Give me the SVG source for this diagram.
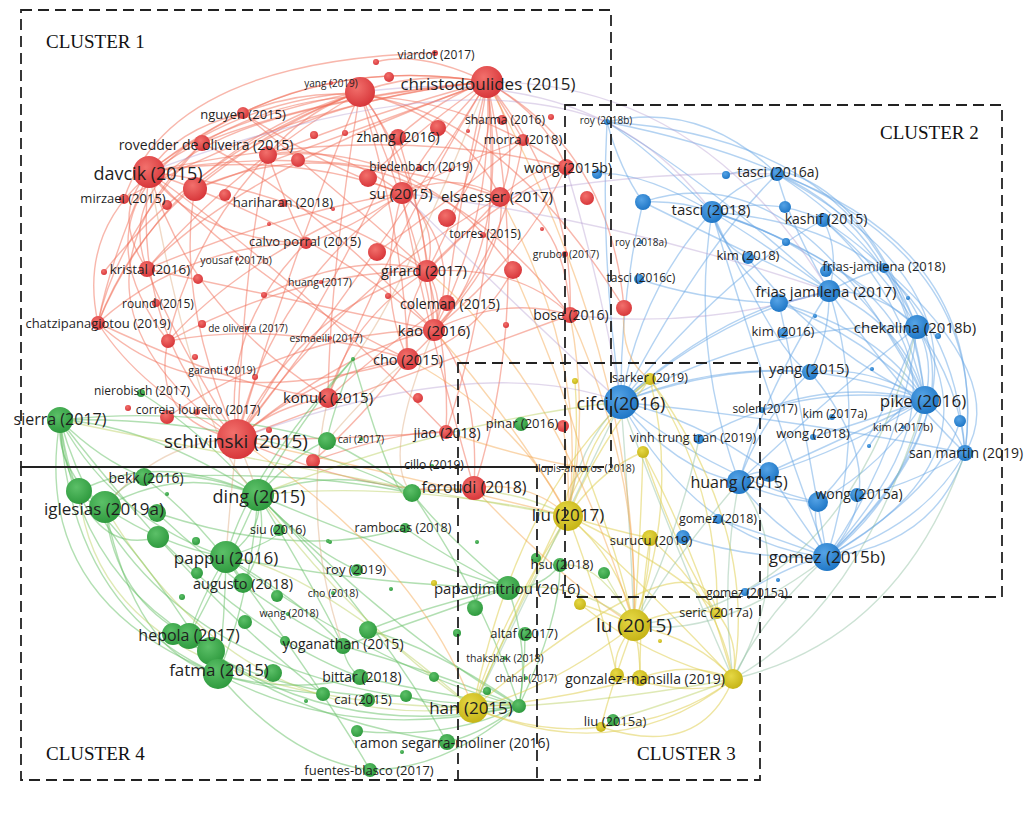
<svg xmlns="http://www.w3.org/2000/svg" width="1034" height="825" viewBox="0 0 1034 825">
<defs>
<radialGradient id="gR" cx="40%" cy="35%" r="70%"><stop offset="0" stop-color="#f2706c"/><stop offset="1" stop-color="#d63337"/></radialGradient>
<radialGradient id="gB" cx="40%" cy="35%" r="70%"><stop offset="0" stop-color="#55a3e6"/><stop offset="1" stop-color="#1c74c4"/></radialGradient>
<radialGradient id="gG" cx="40%" cy="35%" r="70%"><stop offset="0" stop-color="#5cc068"/><stop offset="1" stop-color="#2c983c"/></radialGradient>
<radialGradient id="gY" cx="40%" cy="35%" r="70%"><stop offset="0" stop-color="#e6d845"/><stop offset="1" stop-color="#c4b214"/></radialGradient>
</defs>
<style>
path{fill:none;stroke-width:1.4}
.r{stroke:#f2705a;stroke-opacity:.5}
.b{stroke:#6aa8e6;stroke-opacity:.5}
.g{stroke:#66bf66;stroke-opacity:.5}
.y{stroke:#e0cf55;stroke-opacity:.55}
.o{stroke:#f5a54a;stroke-opacity:.45}
.by{stroke:#8fbfa0;stroke-opacity:.45}
.rb{stroke:#b39ad0;stroke-opacity:.4}
.gy{stroke:#b8cf5c;stroke-opacity:.45}
.rg{stroke:#d9a070;stroke-opacity:.4}
.nr{fill:url(#gR)}.nb{fill:url(#gB)}.ng{fill:url(#gG)}.ny{fill:url(#gY)}
text.t{font-family:"Open Sans","Noto Sans",sans-serif;fill:#1f1f1f;text-anchor:middle;dominant-baseline:central}
.box{fill:none;stroke:#222;stroke-width:1.8;stroke-dasharray:11 6}
.cl{font-family:"Liberation Serif",serif;font-size:19px;fill:#111}
</style>
<rect width="1034" height="825" fill="#fff"/>
<g id="connectors">
<path class="r" d="M487 82Q300 50 149 172"/><path class="r" d="M487 82Q390 240 237 439"/><path class="r" d="M487 82Q430 140 402 193"/><path class="r" d="M487 82Q525 140 500 197"/><path class="r" d="M487 82Q475 185 427 271"/><path class="r" d="M487 82Q495 215 434 330"/><path class="r" d="M487 82Q515 270 408 359"/><path class="r" d="M487 82Q420 70 360 92"/><path class="r" d="M487 82Q380 110 268 155"/><path class="r" d="M487 82Q320 95 202 143"/><path class="r" d="M487 82Q350 60 243 113"/><path class="r" d="M487 82Q575 190 570 315"/><path class="r" d="M487 82Q610 150 624 308"/><path class="r" d="M487 82Q545 115 566 167"/><path class="r" d="M487 82Q445 95 398 137"/><path class="r" d="M487 82Q180 110 98 323"/><path class="r" d="M487 82Q240 170 147 269"/><path class="r" d="M487 82Q385 250 328 398"/><path class="r" d="M487 82Q535 300 474 488"/><path class="r" d="M487 82Q505 255 446 432"/><path class="r" d="M487 82Q460 190 447 303"/><path class="r" d="M487 82Q300 150 195 189"/><path class="r" d="M487 82Q420 50 376 62"/><path class="r" d="M487 82Q500 100 523 140"/>
<path class="r" d="M360 92Q240 100 149 172"/><path class="r" d="M360 92Q290 260 237 439"/><path class="r" d="M360 92Q395 135 402 193"/><path class="r" d="M360 92Q420 170 427 271"/><path class="r" d="M360 92Q305 110 268 155"/><path class="r" d="M360 92Q465 120 500 197"/><path class="r" d="M360 92Q170 150 98 323"/><path class="r" d="M360 92Q405 240 408 359"/><path class="r" d="M360 92Q280 120 195 189"/><path class="r" d="M360 92Q420 230 434 330"/><path class="r" d="M360 92Q330 270 328 398"/><path class="r" d="M360 92Q230 170 147 269"/>
<path class="r" d="M149 172Q130 330 237 439"/><path class="r" d="M149 172Q290 150 402 193"/><path class="r" d="M149 172Q300 190 427 271"/><path class="r" d="M149 172Q260 290 408 359"/><path class="r" d="M149 172Q320 230 434 330"/><path class="r" d="M149 172Q190 310 328 398"/><path class="r" d="M149 172Q110 215 147 269"/><path class="r" d="M149 172Q110 260 98 323"/><path class="r" d="M149 172Q330 140 500 197"/><path class="r" d="M149 172Q175 130 243 113"/><path class="r" d="M149 172Q380 120 566 167"/><path class="r" d="M149 172Q300 280 446 432"/><path class="r" d="M149 172Q200 240 306 243"/>
<path class="r" d="M237 439Q300 310 427 271"/><path class="r" d="M237 439Q270 290 402 193"/><path class="r" d="M237 439Q345 350 434 330"/><path class="r" d="M237 439Q320 370 408 359"/><path class="r" d="M237 439Q275 405 328 398"/><path class="r" d="M237 439Q140 390 98 323"/><path class="r" d="M237 439Q170 330 147 269"/><path class="r" d="M237 439Q340 290 500 197"/><path class="r" d="M237 439Q380 500 474 488"/><path class="r" d="M237 439Q245 250 268 155"/><path class="r" d="M237 439Q175 300 195 189"/><path class="r" d="M237 439Q420 370 570 315"/><path class="r" d="M237 439Q220 330 306 243"/><path class="r" d="M237 439Q370 230 398 137"/><path class="r" d="M237 439Q340 440 446 432"/><path class="r" d="M237 439Q150 420 168 341"/>
<path class="r" d="M402 193Q440 225 427 271"/><path class="r" d="M402 193Q465 250 434 330"/><path class="r" d="M402 193Q375 290 408 359"/><path class="r" d="M402 193Q455 170 500 197"/><path class="r" d="M402 193Q330 140 268 155"/><path class="r" d="M402 193Q350 230 306 243"/><path class="r" d="M427 271Q445 300 434 330"/><path class="r" d="M427 271Q475 225 500 197"/><path class="r" d="M427 271Q350 320 328 398"/><path class="r" d="M427 271Q520 265 570 315"/><path class="r" d="M427 271Q400 320 408 359"/><path class="r" d="M434 330Q505 295 570 315"/><path class="r" d="M434 330Q510 250 500 197"/><path class="r" d="M408 359Q475 340 513 270"/><path class="r" d="M500 197Q565 215 570 315"/><path class="r" d="M500 197Q545 160 566 167"/><path class="r" d="M268 155Q290 215 306 243"/><path class="r" d="M98 323Q115 240 202 143"/><path class="r" d="M98 323Q185 245 306 243"/><path class="r" d="M98 323Q240 390 328 398"/><path class="r" d="M168 341Q250 250 402 193"/><path class="r" d="M168 341Q300 270 427 271"/><path class="r" d="M168 341Q280 320 408 359"/><path class="r" d="M168 341Q190 240 268 155"/><path class="r" d="M147 269Q275 215 402 193"/><path class="r" d="M147 269Q290 300 434 330"/><path class="r" d="M243 113Q330 170 402 193"/><path class="r" d="M243 113Q360 210 427 271"/><path class="r" d="M202 143Q300 190 434 330"/><path class="r" d="M523 140Q505 250 434 330"/><path class="r" d="M523 140Q465 160 402 193"/><path class="r" d="M566 167Q525 255 434 330"/><path class="r" d="M566 167Q475 215 427 271"/><path class="r" d="M398 137Q430 240 434 330"/><path class="r" d="M328 398Q380 350 447 303"/><path class="r" d="M446 432Q450 360 427 271"/><path class="r" d="M474 488Q480 380 434 330"/><path class="r" d="M474 488Q420 300 402 193"/><path class="r" d="M313 461Q360 420 408 359"/><path class="r" d="M124 199Q300 100 487 82"/><path class="r" d="M104 272Q200 150 360 92"/>
<path class="r" d="M98 323Q60 150 360 92"/><path class="r" d="M147 269Q90 120 487 82"/><path class="r" d="M124 199Q170 60 435 53"/><path class="r" d="M168 341Q60 200 243 113"/><path class="r" d="M237 439Q40 300 202 143"/><path class="r" d="M98 323Q200 420 408 359"/><path class="r" d="M202 143Q380 40 566 167"/><path class="r" d="M243 113Q450 30 624 308"/><path class="r" d="M195 189Q400 100 570 315"/><path class="r" d="M268 155Q420 140 513 270"/><path class="r" d="M377 252Q450 200 523 140"/><path class="r" d="M447 218Q500 150 487 82"/><path class="r" d="M368 178Q430 120 487 82"/><path class="r" d="M167 417Q300 330 434 330"/><path class="r" d="M313 461Q400 430 446 432"/><path class="r" d="M264 295Q360 250 427 271"/>
<path class="b" d="M621 402Q770 340 925 400"/><path class="b" d="M621 402Q700 545 827 557"/><path class="b" d="M621 402Q720 315 829 291"/><path class="b" d="M621 402Q640 290 712 212"/><path class="b" d="M621 402Q675 470 739 482"/><path class="b" d="M621 402Q770 320 917 327"/><path class="b" d="M621 402Q800 420 965 453"/><path class="b" d="M621 402Q720 480 818 502"/><path class="b" d="M621 402Q720 365 810 372"/><path class="b" d="M621 402Q700 330 779 303"/><path class="b" d="M621 402Q700 250 777 174"/><path class="b" d="M621 402Q730 270 823 220"/>
<path class="b" d="M925 400Q905 495 827 557"/><path class="b" d="M925 400Q905 325 829 291"/><path class="b" d="M925 400Q865 255 712 212"/><path class="b" d="M925 400Q840 455 739 482"/><path class="b" d="M925 400Q935 360 917 327"/><path class="b" d="M925 400Q955 425 965 453"/><path class="b" d="M925 400Q870 365 810 372"/><path class="b" d="M925 400Q885 465 818 502"/><path class="b" d="M925 400Q905 230 777 174"/><path class="b" d="M925 400Q900 285 823 220"/><path class="b" d="M925 400Q880 330 779 303"/><path class="b" d="M925 400Q840 440 769 472"/>
<path class="b" d="M827 557Q870 420 829 291"/><path class="b" d="M827 557Q760 375 712 212"/><path class="b" d="M827 557Q770 525 739 482"/><path class="b" d="M827 557Q905 445 917 327"/><path class="b" d="M827 557Q925 525 965 453"/><path class="b" d="M827 557Q810 520 818 502"/><path class="b" d="M777 174Q1065 330 827 557"/><path class="b" d="M712 212Q1045 320 827 557"/><path class="b" d="M823 220Q1040 360 827 557"/><path class="b" d="M917 327Q1000 460 827 557"/><path class="b" d="M965 453Q935 545 827 557"/><path class="b" d="M884 268Q1010 380 965 453"/><path class="b" d="M777 174Q990 250 965 453"/><path class="b" d="M712 212Q950 230 965 453"/>
<path class="b" d="M829 291Q760 240 712 212"/><path class="b" d="M829 291Q790 225 777 174"/><path class="b" d="M829 291Q840 250 823 220"/><path class="b" d="M829 291Q880 290 917 327"/><path class="b" d="M829 291Q765 390 739 482"/><path class="b" d="M829 291Q800 300 779 303"/><path class="b" d="M829 291Q830 335 810 372"/><path class="b" d="M829 291Q860 275 884 268"/><path class="b" d="M829 291Q900 390 965 453"/><path class="b" d="M712 212Q740 180 777 174"/><path class="b" d="M712 212Q770 195 823 220"/><path class="b" d="M712 212Q720 245 748 258"/><path class="b" d="M712 212Q730 265 779 303"/><path class="b" d="M712 212Q690 350 739 482"/><path class="b" d="M712 212Q680 200 643 202"/><path class="b" d="M712 212Q820 245 917 327"/><path class="b" d="M712 212Q650 150 607 122"/><path class="b" d="M712 212Q780 360 810 372"/><path class="b" d="M607 122Q620 170 643 202"/><path class="b" d="M607 122Q700 175 829 291"/><path class="b" d="M607 122Q600 260 621 402"/><path class="b" d="M607 122Q700 100 777 174"/><path class="b" d="M917 327Q960 385 965 453"/><path class="b" d="M917 327Q830 395 739 482"/><path class="b" d="M917 327Q880 240 777 174"/><path class="b" d="M823 220Q880 265 917 327"/><path class="b" d="M739 482Q780 500 818 502"/><path class="b" d="M739 482Q750 470 769 472"/><path class="b" d="M739 482Q760 420 810 372"/><path class="b" d="M965 453Q900 490 857 495"/><path class="b" d="M960 421Q940 490 827 557"/><path class="b" d="M643 202Q620 300 621 402"/><path class="b" d="M643 202Q740 250 829 291"/><path class="b" d="M639 279Q700 300 779 303"/><path class="b" d="M718 519Q780 540 827 557"/><path class="b" d="M683 537Q750 560 827 557"/><path class="b" d="M745 592Q800 560 827 557"/><path class="b" d="M597 174Q640 170 712 212"/><path class="b" d="M869 446Q900 400 925 400"/><path class="b" d="M813 437Q870 420 925 400"/><path class="b" d="M762 410Q840 380 925 400"/>
<path class="b" d="M726 175Q840 140 917 327"/><path class="b" d="M643 202Q800 150 925 400"/><path class="b" d="M779 303Q870 340 925 400"/><path class="b" d="M779 303Q800 400 827 557"/><path class="b" d="M769 472Q800 520 827 557"/><path class="b" d="M818 502Q880 440 917 327"/><path class="b" d="M748 258Q820 350 925 400"/><path class="b" d="M810 372Q900 480 827 557"/><path class="b" d="M621 402Q700 420 769 472"/><path class="b" d="M699 439Q800 380 925 400"/><path class="b" d="M607 122Q900 140 925 400"/><path class="b" d="M607 122Q1000 200 965 453"/>
<path class="g" d="M60 420Q55 470 105 507"/><path class="g" d="M60 420Q60 460 79 491"/><path class="g" d="M60 420Q150 425 258 495"/><path class="g" d="M60 420Q115 520 226 557"/><path class="g" d="M60 420Q75 565 189 636"/><path class="g" d="M60 420Q70 610 218 674"/><path class="g" d="M60 420Q200 405 327 441"/><path class="g" d="M60 420Q100 460 144 477"/><path class="g" d="M60 420Q140 700 519 706"/><path class="g" d="M60 420Q250 415 412 493"/><path class="g" d="M60 420Q80 560 158 537"/><path class="g" d="M105 507Q180 465 258 495"/><path class="g" d="M105 507Q160 545 226 557"/><path class="g" d="M105 507Q115 600 189 636"/><path class="g" d="M105 507Q135 655 218 674"/><path class="g" d="M105 507Q120 485 144 477"/><path class="g" d="M79 491Q160 450 258 495"/><path class="g" d="M79 491Q150 560 218 674"/>
<path class="g" d="M258 495Q265 530 226 557"/><path class="g" d="M258 495Q270 545 243 583"/><path class="g" d="M258 495Q220 580 189 636"/><path class="g" d="M258 495Q250 600 218 674"/><path class="g" d="M258 495Q395 635 519 706"/><path class="g" d="M258 495Q335 465 412 493"/><path class="g" d="M258 495Q400 555 508 588"/><path class="g" d="M258 495Q300 450 327 441"/><path class="g" d="M258 495Q200 470 144 477"/><path class="g" d="M258 495Q310 580 343 646"/><path class="g" d="M258 495Q310 550 357 570"/><path class="g" d="M226 557Q200 600 189 636"/><path class="g" d="M226 557Q225 620 218 674"/><path class="g" d="M226 557Q380 670 519 706"/><path class="g" d="M226 557Q370 585 508 588"/><path class="g" d="M226 557Q300 600 343 646"/><path class="g" d="M189 636Q330 745 519 706"/><path class="g" d="M218 674Q350 745 519 706"/><path class="g" d="M218 674Q290 695 360 677"/><path class="g" d="M218 674Q270 690 323 694"/>
<path class="g" d="M519 706Q440 695 360 677"/><path class="g" d="M519 706Q460 715 406 696"/><path class="g" d="M519 706Q430 670 343 646"/><path class="g" d="M519 706Q530 650 508 588"/><path class="g" d="M519 706Q440 650 368 630"/><path class="g" d="M519 706Q485 600 412 493"/><path class="g" d="M519 706Q445 770 370 770"/><path class="g" d="M519 706Q480 735 447 742"/><path class="g" d="M519 706Q450 740 357 731"/><path class="g" d="M519 706Q525 670 525 634"/><path class="g" d="M519 706Q560 620 560 565"/><path class="g" d="M508 588Q440 530 412 493"/><path class="g" d="M508 588Q420 620 343 646"/><path class="g" d="M508 588Q430 605 368 630"/><path class="g" d="M508 588Q480 570 475 608"/><path class="g" d="M360 677Q345 665 343 646"/><path class="g" d="M412 493Q370 460 327 441"/><path class="g" d="M353 359Q300 420 258 495"/><path class="g" d="M353 359Q330 420 327 441"/><path class="g" d="M353 359Q400 520 412 493"/><path class="g" d="M353 359Q250 470 226 557"/><path class="g" d="M141 393Q200 430 258 495"/><path class="g" d="M60 420Q200 600 323 694"/><path class="g" d="M144 477Q200 520 243 583"/><path class="g" d="M157 513Q250 600 343 646"/><path class="g" d="M158 537Q260 640 360 677"/><path class="g" d="M173 634Q280 700 406 696"/><path class="g" d="M211 651Q300 720 447 742"/><path class="g" d="M218 674Q290 760 370 770"/><path class="g" d="M226 557Q280 540 279 530"/><path class="g" d="M405 528Q450 560 508 588"/><path class="g" d="M560 565Q540 590 508 588"/>
<path class="g" d="M60 420Q30 600 218 674"/><path class="g" d="M144 477Q300 470 412 493"/><path class="g" d="M157 513Q300 560 405 528"/><path class="g" d="M258 495Q380 620 447 742"/><path class="g" d="M226 557Q330 700 370 770"/>
<path class="y" d="M634 625Q620 560 568 516"/><path class="y" d="M634 625Q700 640 733 679"/><path class="y" d="M634 625Q680 605 717 613"/><path class="y" d="M634 625Q550 690 473 708"/><path class="y" d="M634 625Q680 500 650 379"/><path class="y" d="M634 625Q640 650 640 678"/><path class="y" d="M634 625Q610 655 617 675"/><path class="y" d="M634 625Q610 690 601 727"/><path class="y" d="M634 625Q600 610 580 604"/><path class="y" d="M634 625Q650 580 650 538"/><path class="y" d="M568 516Q595 450 650 379"/><path class="y" d="M568 516Q500 620 473 708"/><path class="y" d="M568 516Q660 600 733 679"/><path class="y" d="M568 516Q600 470 643 452"/><path class="y" d="M568 516Q610 530 650 538"/><path class="y" d="M568 516Q680 570 717 613"/><path class="y" d="M568 516Q560 490 585 468"/><path class="y" d="M733 679Q760 530 650 379"/><path class="y" d="M733 679Q740 640 717 613"/><path class="y" d="M733 679Q680 720 601 727"/><path class="y" d="M733 679Q620 770 473 708"/><path class="y" d="M733 679Q690 660 640 678"/><path class="y" d="M733 679Q700 560 643 452"/><path class="y" d="M733 679Q720 600 650 538"/><path class="y" d="M717 613Q720 490 650 379"/><path class="y" d="M717 613Q680 560 643 452"/><path class="y" d="M650 379Q600 420 585 468"/><path class="y" d="M473 708Q520 480 650 379"/><path class="y" d="M601 727Q540 735 473 708"/><path class="y" d="M640 678Q560 700 473 708"/><path class="y" d="M617 675Q600 600 568 516"/><path class="y" d="M585 468Q620 560 634 625"/><path class="y" d="M585 468Q520 600 473 708"/><path class="y" d="M575 381Q580 450 568 516"/><path class="y" d="M643 452Q640 550 634 625"/><path class="y" d="M650 538Q640 600 640 678"/>
<path class="y" d="M601 727Q700 760 733 679"/><path class="y" d="M617 675Q700 700 733 679"/><path class="y" d="M580 604Q650 660 733 679"/><path class="y" d="M473 708Q700 520 717 613"/>
<path class="by" d="M621 402Q630 520 634 625"/><path class="by" d="M621 402Q575 450 568 516"/><path class="by" d="M621 402Q680 560 733 679"/><path class="by" d="M621 402Q640 390 650 379"/><path class="by" d="M739 482Q720 580 733 679"/><path class="by" d="M739 482Q680 550 634 625"/><path class="by" d="M827 557Q760 620 733 679"/><path class="by" d="M827 557Q720 640 634 625"/><path class="by" d="M699 439Q680 530 634 625"/><path class="by" d="M621 402Q540 570 473 708"/><path class="by" d="M965 453Q900 640 733 679"/><path class="by" d="M917 327Q850 600 634 625"/><path class="by" d="M733 679Q800 560 739 482"/><path class="by" d="M733 679Q860 610 925 400"/>
<path class="o" d="M474 488Q530 480 568 516"/><path class="o" d="M474 488Q560 580 634 625"/><path class="o" d="M570 315Q590 420 568 516"/><path class="o" d="M570 315Q640 470 634 625"/><path class="o" d="M434 330Q520 430 568 516"/><path class="o" d="M427 271Q560 380 634 625"/><path class="o" d="M500 197Q590 360 568 516"/><path class="o" d="M237 439Q420 480 568 516"/><path class="o" d="M237 439Q420 560 473 708"/><path class="o" d="M487 82Q640 360 634 625"/><path class="o" d="M408 359Q520 420 568 516"/><path class="o" d="M624 308Q620 360 650 379"/><path class="o" d="M563 426Q570 470 568 516"/><path class="o" d="M446 432Q530 460 585 468"/><path class="o" d="M513 270Q570 400 585 468"/>
<path class="rb" d="M402 193Q540 330 621 402"/><path class="rb" d="M566 167Q600 280 621 402"/><path class="rb" d="M487 82Q700 80 829 291"/><path class="rb" d="M360 92Q600 60 712 212"/><path class="rb" d="M500 197Q640 170 777 174"/><path class="rb" d="M402 193Q620 220 829 291"/><path class="rb" d="M237 439Q480 350 621 402"/><path class="rb" d="M149 172Q450 60 607 122"/><path class="rb" d="M570 315Q700 330 829 291"/>
<path class="gy" d="M473 708Q350 620 258 495"/><path class="gy" d="M473 708Q520 600 568 516"/><path class="gy" d="M508 588Q580 580 634 625"/><path class="gy" d="M568 516Q400 480 258 495"/><path class="gy" d="M473 708Q300 560 226 557"/><path class="gy" d="M519 706Q620 700 733 679"/><path class="gy" d="M613 720Q680 700 733 679"/><path class="gy" d="M560 565Q600 560 634 625"/><path class="gy" d="M412 493Q500 480 568 516"/><path class="gy" d="M604 573Q620 600 634 625"/><path class="gy" d="M60 420Q300 470 568 516"/><path class="gy" d="M105 507Q240 735 473 708"/><path class="gy" d="M258 495Q450 420 621 402"/><path class="gy" d="M79 491Q100 700 473 708"/>
<path class="rg" d="M237 439Q250 470 258 495"/><path class="rg" d="M237 439Q160 440 105 507"/><path class="rg" d="M237 439Q230 500 226 557"/><path class="rg" d="M474 488Q440 480 412 493"/><path class="rg" d="M408 359Q370 390 327 441"/><path class="rg" d="M149 172Q200 450 258 495"/><path class="rg" d="M328 398Q300 520 343 646"/><path class="rg" d="M434 330Q380 460 412 493"/><path class="rg" d="M487 82Q400 300 353 359"/>
</g>
<g id="minor-nodes">
<circle class="nr" cx="360" cy="92" r="15"/><circle class="nr" cx="376" cy="62" r="3"/><circle class="nr" cx="389" cy="77" r="5"/><circle class="nr" cx="268" cy="155" r="9"/><circle class="nr" cx="298" cy="160" r="7"/><circle class="nr" cx="314" cy="135" r="4"/><circle class="nr" cx="345" cy="133" r="3"/><circle class="nr" cx="195" cy="189" r="12"/><circle class="nr" cx="167" cy="205" r="5"/><circle class="nr" cx="225" cy="195" r="6"/><circle class="nr" cx="333" cy="209" r="2"/><circle class="nr" cx="269" cy="224" r="2"/><circle class="nr" cx="104" cy="272" r="3"/><circle class="nr" cx="377" cy="252" r="9"/><circle class="nr" cx="198" cy="279" r="5"/><circle class="nr" cx="264" cy="295" r="3"/><circle class="nr" cx="202" cy="324" r="4"/><circle class="nr" cx="168" cy="341" r="7"/><circle class="nr" cx="195" cy="357" r="3"/><circle class="nr" cx="255" cy="377" r="3"/><circle class="nr" cx="128" cy="408" r="3"/><circle class="nr" cx="167" cy="417" r="7"/><circle class="nr" cx="269" cy="430" r="3"/><circle class="nr" cx="313" cy="461" r="7"/><circle class="nr" cx="388" cy="296" r="3"/><circle class="nr" cx="506" cy="325" r="3"/><circle class="nr" cx="513" cy="270" r="9"/><circle class="nr" cx="447" cy="218" r="9"/><circle class="nr" cx="438" cy="128" r="8"/><circle class="nr" cx="368" cy="178" r="9"/><circle class="nr" cx="450" cy="170" r="2"/><circle class="nr" cx="468" cy="131" r="2"/><circle class="nr" cx="551" cy="117" r="3"/><circle class="nr" cx="587" cy="198" r="7"/><circle class="nr" cx="542" cy="229" r="2"/><circle class="nr" cx="624" cy="308" r="8"/><circle class="nr" cx="563" cy="426" r="6"/><circle class="nr" cx="418" cy="398" r="5"/>
<circle class="nb" cx="597" cy="174" r="5"/><circle class="nb" cx="643" cy="202" r="8"/><circle class="nb" cx="726" cy="175" r="4"/><circle class="nb" cx="785" cy="207" r="6"/><circle class="nb" cx="786" cy="242" r="4"/><circle class="nb" cx="826" cy="271" r="6"/><circle class="nb" cx="779" cy="303" r="9"/><circle class="nb" cx="908" cy="298" r="2"/><circle class="nb" cx="815" cy="316" r="2"/><circle class="nb" cx="938" cy="336" r="3"/><circle class="nb" cx="872" cy="369" r="2"/><circle class="nb" cx="960" cy="421" r="6"/><circle class="nb" cx="869" cy="446" r="2"/><circle class="nb" cx="769" cy="472" r="10"/><circle class="nb" cx="818" cy="502" r="10"/><circle class="nb" cx="778" cy="580" r="2"/><circle class="nb" cx="683" cy="537" r="7"/>
<circle class="ny" cx="575" cy="381" r="3"/><circle class="ny" cx="643" cy="452" r="6"/><circle class="ny" cx="580" cy="604" r="6"/><circle class="ny" cx="660" cy="641" r="2"/><circle class="ny" cx="617" cy="675" r="7"/><circle class="ny" cx="733" cy="679" r="10"/><circle class="ny" cx="434" cy="583" r="3"/>
<circle class="ng" cx="327" cy="441" r="9"/><circle class="ng" cx="79" cy="491" r="13"/><circle class="ng" cx="157" cy="513" r="9"/><circle class="ng" cx="158" cy="537" r="11"/><circle class="ng" cx="167" cy="494" r="2"/><circle class="ng" cx="328" cy="541" r="2"/><circle class="ng" cx="196" cy="541" r="4"/><circle class="ng" cx="197" cy="573" r="6"/><circle class="ng" cx="277" cy="596" r="6"/><circle class="ng" cx="182" cy="597" r="3"/><circle class="ng" cx="330" cy="542" r="2"/><circle class="ng" cx="391" cy="589" r="2"/><circle class="ng" cx="245" cy="622" r="7"/><circle class="ng" cx="173" cy="634" r="11"/><circle class="ng" cx="211" cy="651" r="14"/><circle class="ng" cx="273" cy="673" r="9"/><circle class="ng" cx="285" cy="641" r="5"/><circle class="ng" cx="368" cy="630" r="9"/><circle class="ng" cx="323" cy="694" r="7"/><circle class="ng" cx="306" cy="701" r="2"/><circle class="ng" cx="406" cy="696" r="6"/><circle class="ng" cx="434" cy="677" r="5"/><circle class="ng" cx="357" cy="731" r="6"/><circle class="ng" cx="402" cy="752" r="2"/><circle class="ng" cx="412" cy="493" r="9"/><circle class="ng" cx="477" cy="542" r="2"/><circle class="ng" cx="536" cy="558" r="5"/><circle class="ng" cx="604" cy="573" r="6"/><circle class="ng" cx="475" cy="608" r="8"/><circle class="ng" cx="457" cy="633" r="4"/><circle class="ng" cx="519" cy="706" r="7"/><circle class="ng" cx="487" cy="691" r="4"/><circle class="ng" cx="613" cy="720" r="6"/><circle class="ng" cx="353" cy="359" r="2"/>
</g>
<g id="nodes">
<g id="n-christodoulides-2015"><circle class="nr" cx="487" cy="82" r="16"/><text class="t" x="488" y="83" font-size="17">christodoulides (2015)</text></g>
<g id="n-viardot-2017"><circle class="nr" cx="435" cy="53" r="3"/><text class="t" x="436" y="54" font-size="12">viardot (2017)</text></g>
<g id="n-yang-2019"><circle class="nr" cx="331" cy="83" r="2"/><text class="t" x="331" y="83" font-size="10">yang (2019)</text></g>
<g id="n-nguyen-2015"><circle class="nr" cx="243" cy="113" r="6"/><text class="t" x="243" y="114" font-size="13">nguyen (2015)</text></g>
<g id="n-rovedder-2015"><circle class="nr" cx="202" cy="143" r="8"/><text class="t" x="206" y="144" font-size="14">rovedder de oliveira (2015)</text></g>
<g id="n-davcik-2015"><circle class="nr" cx="149" cy="172" r="16"/><text class="t" x="148" y="173" font-size="18">davcik (2015)</text></g>
<g id="n-mirzaei-2015"><circle class="nr" cx="124" cy="199" r="5"/><text class="t" x="123" y="198" font-size="13">mirzaei (2015)</text></g>
<g id="n-hariharan-2018"><circle class="nr" cx="283" cy="203" r="4"/><text class="t" x="283" y="202" font-size="13">hariharan (2018)</text></g>
<g id="n-calvo-porral-2015"><circle class="nr" cx="306" cy="243" r="6"/><text class="t" x="305" y="241" font-size="13">calvo porral (2015)</text></g>
<g id="n-yousaf-2017b"><circle class="nr" cx="237" cy="259" r="2"/><text class="t" x="236" y="260" font-size="10.5">yousaf (2017b)</text></g>
<g id="n-kristal-2016"><circle class="nr" cx="147" cy="269" r="8"/><text class="t" x="150" y="269" font-size="13.5">kristal (2016)</text></g>
<g id="n-huang-2017"><circle class="nr" cx="321" cy="282" r="2"/><text class="t" x="320" y="282" font-size="10.5">huang (2017)</text></g>
<g id="n-round-2015"><circle class="nr" cx="156" cy="303" r="4"/><text class="t" x="158" y="303" font-size="12">round (2015)</text></g>
<g id="n-chatzipanagiotou-2019"><circle class="nr" cx="98" cy="323" r="7"/><text class="t" x="98" y="323" font-size="13">chatzipanagiotou (2019)</text></g>
<g id="n-de-oliveira-2017"><circle class="nr" cx="247" cy="328" r="2"/><text class="t" x="248" y="328" font-size="10">de oliveira (2017)</text></g>
<g id="n-esmaeili-2017"><circle class="nr" cx="330" cy="338" r="2"/><text class="t" x="326" y="338" font-size="10.5">esmaeili (2017)</text></g>
<g id="n-garanti-2019"><circle class="nr" cx="226" cy="369" r="2"/><text class="t" x="222" y="370" font-size="10.5">garanti (2019)</text></g>
<g id="n-nierobisch-2017"><circle class="ng" cx="141" cy="393" r="4"/><text class="t" x="142" y="390" font-size="12">nierobisch (2017)</text></g>
<g id="n-correia-loureiro-2017"><circle class="nr" cx="197" cy="412" r="3"/><text class="t" x="198" y="409" font-size="12">correia loureiro (2017)</text></g>
<g id="n-konuk-2015"><circle class="nr" cx="328" cy="398" r="10"/><text class="t" x="328" y="397" font-size="15">konuk (2015)</text></g>
<g id="n-schivinski-2015"><circle class="nr" cx="237" cy="439" r="20"/><text class="t" x="236" y="441" font-size="19">schivinski (2015)</text></g>
<g id="n-cai-2017"><circle class="ng" cx="361" cy="439" r="2"/><text class="t" x="361" y="439" font-size="10.5">cai (2017)</text></g>
<g id="n-cho-2015"><circle class="nr" cx="408" cy="359" r="11"/><text class="t" x="408" y="359" font-size="14.5">cho (2015)</text></g>
<g id="n-kao-2016"><circle class="nr" cx="434" cy="330" r="11"/><text class="t" x="434" y="330" font-size="15">kao (2016)</text></g>
<g id="n-coleman-2015"><circle class="nr" cx="447" cy="303" r="8"/><text class="t" x="450" y="303" font-size="14">coleman (2015)</text></g>
<g id="n-girard-2017"><circle class="nr" cx="427" cy="271" r="11"/><text class="t" x="424" y="270" font-size="14.5">girard (2017)</text></g>
<g id="n-torres-2015"><circle class="nr" cx="483" cy="235" r="3"/><text class="t" x="485" y="233" font-size="12">torres (2015)</text></g>
<g id="n-grubor-2017"><circle class="nr" cx="565" cy="254" r="3"/><text class="t" x="566" y="254" font-size="10.5">grubor (2017)</text></g>
<g id="n-elsaesser-2017"><circle class="nr" cx="500" cy="197" r="10"/><text class="t" x="497" y="196" font-size="15">elsaesser (2017)</text></g>
<g id="n-su-2015"><circle class="nr" cx="402" cy="193" r="11"/><text class="t" x="401" y="193" font-size="15">su (2015)</text></g>
<g id="n-biedenbach-2019"><circle class="nr" cx="420" cy="168" r="3"/><text class="t" x="421" y="166" font-size="12">biedenbach (2019)</text></g>
<g id="n-wong-2015b"><circle class="nr" cx="566" cy="167" r="8"/><text class="t" x="568" y="167" font-size="14">wong (2015b)</text></g>
<g id="n-zhang-2016"><circle class="nr" cx="398" cy="137" r="8"/><text class="t" x="398" y="136" font-size="14">zhang (2016)</text></g>
<g id="n-morra-2018"><circle class="nr" cx="523" cy="140" r="6"/><text class="t" x="523" y="139" font-size="13">morra (2018)</text></g>
<g id="n-sharma-2016"><circle class="nr" cx="502" cy="120" r="5"/><text class="t" x="505" y="119" font-size="12">sharma (2016)</text></g>
<g id="n-jiao-2018"><circle class="nr" cx="446" cy="432" r="7"/><text class="t" x="447" y="432" font-size="14">jiao (2018)</text></g>
<g id="n-pinar-2016"><circle class="ng" cx="521" cy="424" r="7"/><text class="t" x="522" y="423" font-size="13">pinar (2016)</text></g>
<g id="n-bose-2016"><circle class="nr" cx="570" cy="315" r="8"/><text class="t" x="571" y="314" font-size="14">bose (2016)</text></g>
<g id="n-foroudi-2018"><circle class="nr" cx="474" cy="488" r="12"/><text class="t" x="474" y="487" font-size="16">foroudi (2018)</text></g>
<g id="n-cillo-2019"><circle class="ng" cx="432" cy="466" r="2"/><text class="t" x="434" y="464" font-size="12">cillo (2019)</text></g>
<g id="n-roy-2018b"><circle class="nb" cx="607" cy="122" r="3"/><text class="t" x="606" y="120" font-size="10">roy (2018b)</text></g>
<g id="n-roy-2018a"><circle class="nb" cx="641" cy="242" r="2"/><text class="t" x="641" y="242" font-size="10">roy (2018a)</text></g>
<g id="n-tasci-2016c"><circle class="nb" cx="639" cy="279" r="5"/><text class="t" x="641" y="277" font-size="12">tasci (2016c)</text></g>
<g id="n-tasci-2016a"><circle class="nb" cx="777" cy="174" r="7"/><text class="t" x="778" y="171" font-size="14">tasci (2016a)</text></g>
<g id="n-tasci-2018"><circle class="nb" cx="712" cy="212" r="11"/><text class="t" x="711" y="209" font-size="15">tasci (2018)</text></g>
<g id="n-kashif-2015"><circle class="nb" cx="823" cy="220" r="7"/><text class="t" x="826" y="218" font-size="14">kashif (2015)</text></g>
<g id="n-kim-2018"><circle class="nb" cx="748" cy="258" r="6"/><text class="t" x="748" y="255" font-size="13">kim (2018)</text></g>
<g id="n-frias-jamilena-2018"><circle class="nb" cx="884" cy="268" r="5"/><text class="t" x="884" y="266" font-size="13">frias-jamilena (2018)</text></g>
<g id="n-frias-jamilena-2017"><circle class="nb" cx="829" cy="291" r="11"/><text class="t" x="826" y="291" font-size="15">frias jamilena (2017)</text></g>
<g id="n-kim-2016"><circle class="nb" cx="783" cy="333" r="5"/><text class="t" x="783" y="331" font-size="13">kim (2016)</text></g>
<g id="n-chekalina-2018b"><circle class="nb" cx="917" cy="327" r="12"/><text class="t" x="915" y="327" font-size="15">chekalina (2018b)</text></g>
<g id="n-cifci-2016"><circle class="nb" cx="621" cy="402" r="17"/><text class="t" x="621" y="403" font-size="18">cifci (2016)</text></g>
<g id="n-yang-2015"><circle class="nb" cx="810" cy="372" r="8"/><text class="t" x="809" y="368" font-size="15">yang (2015)</text></g>
<g id="n-pike-2016"><circle class="nb" cx="925" cy="400" r="14"/><text class="t" x="923" y="400" font-size="17">pike (2016)</text></g>
<g id="n-soler-2017"><circle class="nb" cx="762" cy="410" r="3"/><text class="t" x="765" y="408" font-size="12">soler (2017)</text></g>
<g id="n-kim-2017a"><circle class="nb" cx="832" cy="417" r="3"/><text class="t" x="835" y="413" font-size="12">kim (2017a)</text></g>
<g id="n-kim-2017b"><circle class="nb" cx="903" cy="427" r="2"/><text class="t" x="903" y="426" font-size="11">kim (2017b)</text></g>
<g id="n-wong-2018"><circle class="nb" cx="813" cy="437" r="3"/><text class="t" x="813" y="433" font-size="13">wong (2018)</text></g>
<g id="n-vinh-trung-tran-2019"><circle class="nb" cx="699" cy="439" r="5"/><text class="t" x="693" y="437" font-size="12.5">vinh trung tran (2019)</text></g>
<g id="n-san-martin-2019"><circle class="nb" cx="965" cy="453" r="8"/><text class="t" x="966" y="452" font-size="14">san martin (2019)</text></g>
<g id="n-huang-2015"><circle class="nb" cx="739" cy="482" r="12"/><text class="t" x="739" y="482" font-size="16">huang (2015)</text></g>
<g id="n-wong-2015a"><circle class="nb" cx="857" cy="495" r="7"/><text class="t" x="859" y="493" font-size="14">wong (2015a)</text></g>
<g id="n-gomez-2018"><circle class="nb" cx="718" cy="519" r="5"/><text class="t" x="718" y="518" font-size="12.5">gomez (2018)</text></g>
<g id="n-gomez-2015b"><circle class="nb" cx="827" cy="557" r="14"/><text class="t" x="827" y="556" font-size="17">gomez (2015b)</text></g>
<g id="n-gomez-2015a"><circle class="nb" cx="745" cy="592" r="4"/><text class="t" x="747" y="592" font-size="12">gomez (2015a)</text></g>
<g id="n-sarker-2019"><circle class="ny" cx="650" cy="379" r="6"/><text class="t" x="650" y="377" font-size="12.5">sarker (2019)</text></g>
<g id="n-llopis-amoros-2018"><circle class="ny" cx="585" cy="468" r="2"/><text class="t" x="585" y="468" font-size="10.5">llopis-amoros (2018)</text></g>
<g id="n-liu-2017"><circle class="ny" cx="568" cy="516" r="15"/><text class="t" x="568" y="514" font-size="17">liu (2017)</text></g>
<g id="n-surucu-2019"><circle class="ny" cx="650" cy="538" r="8"/><text class="t" x="651" y="540" font-size="13">surucu (2019)</text></g>
<g id="n-lu-2015"><circle class="ny" cx="634" cy="625" r="16"/><text class="t" x="634" y="625" font-size="19">lu (2015)</text></g>
<g id="n-seric-2017a"><circle class="ny" cx="717" cy="613" r="6"/><text class="t" x="716" y="612" font-size="12.5">seric (2017a)</text></g>
<g id="n-gonzalez-mansilla-2019"><circle class="ny" cx="640" cy="678" r="8"/><text class="t" x="645" y="678" font-size="14">gonzalez-mansilla (2019)</text></g>
<g id="n-liu-2015a"><circle class="ny" cx="601" cy="727" r="5"/><text class="t" x="615" y="721" font-size="13">liu (2015a)</text></g>
<g id="n-han-2015"><circle class="ny" cx="473" cy="708" r="15"/><text class="t" x="471" y="707" font-size="17">han (2015)</text></g>
<g id="n-sierra-2017"><circle class="ng" cx="60" cy="420" r="13"/><text class="t" x="60" y="419" font-size="16">sierra (2017)</text></g>
<g id="n-bekk-2016"><circle class="ng" cx="144" cy="477" r="9"/><text class="t" x="146" y="477" font-size="14">bekk (2016)</text></g>
<g id="n-iglesias-2019a"><circle class="ng" cx="105" cy="507" r="16"/><text class="t" x="104" y="508" font-size="17">iglesias (2019a)</text></g>
<g id="n-ding-2015"><circle class="ng" cx="258" cy="495" r="16"/><text class="t" x="259" y="496" font-size="18">ding (2015)</text></g>
<g id="n-siu-2016"><circle class="ng" cx="279" cy="530" r="6"/><text class="t" x="278" y="529" font-size="12.5">siu (2016)</text></g>
<g id="n-rambocas-2018"><circle class="ng" cx="405" cy="528" r="5"/><text class="t" x="403" y="527" font-size="12.5">rambocas (2018)</text></g>
<g id="n-pappu-2016"><circle class="ng" cx="226" cy="557" r="16"/><text class="t" x="226" y="557" font-size="17">pappu (2016)</text></g>
<g id="n-augusto-2018"><circle class="ng" cx="243" cy="583" r="10"/><text class="t" x="243" y="583" font-size="14.5">augusto (2018)</text></g>
<g id="n-roy-2019"><circle class="ng" cx="357" cy="570" r="6"/><text class="t" x="356" y="569" font-size="13">roy (2019)</text></g>
<g id="n-cho-2018"><circle class="ng" cx="333" cy="593" r="2"/><text class="t" x="333" y="593" font-size="10.5">cho (2018)</text></g>
<g id="n-wang-2018"><circle class="ng" cx="288" cy="614" r="2"/><text class="t" x="289" y="613" font-size="10.5">wang (2018)</text></g>
<g id="n-hepola-2017"><circle class="ng" cx="189" cy="636" r="13"/><text class="t" x="189" y="635" font-size="16">hepola (2017)</text></g>
<g id="n-yoganathan-2015"><circle class="ng" cx="343" cy="646" r="8"/><text class="t" x="343" y="643" font-size="14">yoganathan (2015)</text></g>
<g id="n-fatma-2015"><circle class="ng" cx="218" cy="674" r="15"/><text class="t" x="219" y="669" font-size="17">fatma (2015)</text></g>
<g id="n-bittar-2018"><circle class="ng" cx="360" cy="677" r="8"/><text class="t" x="362" y="676" font-size="14">bittar (2018)</text></g>
<g id="n-cai-2015"><circle class="ng" cx="368" cy="700" r="7"/><text class="t" x="363" y="699" font-size="13">cai (2015)</text></g>
<g id="n-papadimitriou-2016"><circle class="ng" cx="508" cy="588" r="12"/><text class="t" x="507" y="588" font-size="15">papadimitriou (2016)</text></g>
<g id="n-hsu-2018"><circle class="ng" cx="560" cy="565" r="7"/><text class="t" x="562" y="564" font-size="13">hsu (2018)</text></g>
<g id="n-altaf-2017"><circle class="ng" cx="525" cy="634" r="7"/><text class="t" x="524" y="633" font-size="13">altaf (2017)</text></g>
<g id="n-thakshak-2018"><circle class="ng" cx="505" cy="658" r="2"/><text class="t" x="505" y="658" font-size="10.5">thakshak (2018)</text></g>
<g id="n-chahal-2017"><circle class="ng" cx="526" cy="678" r="2"/><text class="t" x="526" y="678" font-size="10">chahal (2017)</text></g>
<g id="n-ramon-segarra-moliner-2016"><circle class="ng" cx="447" cy="742" r="8"/><text class="t" x="452" y="742" font-size="14">ramon segarra-moliner (2016)</text></g>
<g id="n-fuentes-blasco-2017"><circle class="ng" cx="370" cy="770" r="7"/><text class="t" x="369" y="770" font-size="13">fuentes-blasco (2017)</text></g>
</g>
<g id="clusters">
<rect class="box" x="21" y="10" width="590" height="457"/>
<rect class="box" x="565" y="105" width="437" height="492"/>
<rect class="box" x="458" y="363" width="302" height="417"/>
<rect class="box" x="21" y="467" width="516" height="313"/>
<text class="cl" x="46" y="48">CLUSTER 1</text>
<text class="cl" x="880" y="139">CLUSTER 2</text>
<text class="cl" x="637" y="760">CLUSTER 3</text>
<text class="cl" x="46" y="760">CLUSTER 4</text>
</g>
</svg>
